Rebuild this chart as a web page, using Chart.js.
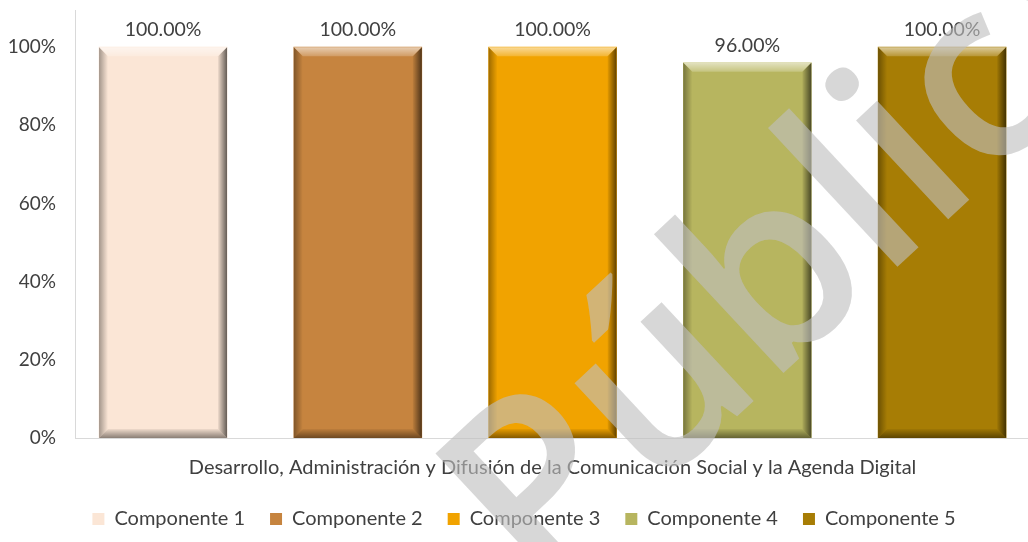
<!DOCTYPE html>
<html>
<head>
<meta charset="utf-8">
<script src="https://cdn.jsdelivr.net/npm/chart.js@4.4.1/dist/chart.umd.min.js"></script>
<style>
  html, body { margin: 0; padding: 0; background: #fff; overflow: hidden; }
  #wrap { width: 1028px; height: 542px; }
</style>
</head>
<body>
<div id="wrap"><canvas id="chart" width="1028" height="542"></canvas></div>
<script>
// datos
const categories = ['Desarrollo, Administración y Difusión de la Comunicación Social y la Agenda Digital'];
const seriesNames = ['Componente 1', 'Componente 2', 'Componente 3', 'Componente 4', 'Componente 5'];
const seriesValues = [100, 100, 100, 96, 100];
const yTicks = [0, 20, 40, 60, 80, 100];

const seriesColors = ['#FBE6D6', '#C6843F', '#F1A300', '#B7B55F', '#A77D05'];
const FONT = 'Lato, "Open Sans", sans-serif';
const TEXT = '#404040';

// biselado de las barras
const bevelPlugin = {
    id: 'bevel',
    afterDatasetsDraw(chart) {
        const ctx = chart.ctx;
        chart.data.datasets.forEach((ds, i) => {
            chart.getDatasetMeta(i).data.forEach(bar => {
                const l = bar.x - bar.width / 2, r = bar.x + bar.width / 2;
                const t = bar.y, b = bar.base, s = 9;
                ctx.save();
                let g = ctx.createLinearGradient(0, t, 0, t + s);
                g.addColorStop(0, 'rgba(255,255,255,0.6)');
                g.addColorStop(1, 'rgba(255,255,255,0.2)');
                quad(ctx, [[l, t], [r, t], [r - s, t + s], [l + s, t + s]], g);
                g = ctx.createLinearGradient(r - s, 0, r, 0);
                g.addColorStop(0, 'rgba(0,0,0,0.05)');
                g.addColorStop(1, 'rgba(0,0,0,0.6)');
                quad(ctx, [[r, t], [r, b], [r - s, b - s], [r - s, t + s]], g);
                g = ctx.createLinearGradient(l, 0, l + s, 0);
                g.addColorStop(0, 'rgba(0,0,0,0.35)');
                g.addColorStop(1, 'rgba(0,0,0,0)');
                quad(ctx, [[l, t], [l + s, t + s], [l + s, b - s], [l, b]], g);
                g = ctx.createLinearGradient(0, b - s, 0, b);
                g.addColorStop(0, 'rgba(0,0,0,0.05)');
                g.addColorStop(1, 'rgba(0,0,0,0.45)');
                quad(ctx, [[l, b], [r, b], [r - s, b - s], [l + s, b - s]], g);
                ctx.restore();
            });
        });
    }
};

function quad(ctx, pts, fill) {
    ctx.beginPath();
    ctx.moveTo(pts[0][0], pts[0][1]);
    for (let k = 1; k < pts.length; k++) ctx.lineTo(pts[k][0], pts[k][1]);
    ctx.closePath();
    ctx.fillStyle = fill;
    ctx.fill();
}

// etiquetas de valor
const labelPlugin = {
    id: 'valueLabels',
    afterDatasetsDraw(chart) {
        const ctx = chart.ctx;
        ctx.save();
        ctx.font = '19.5px ' + FONT;
        ctx.fillStyle = TEXT;
        ctx.textAlign = 'center';
        ctx.textBaseline = 'middle';
        chart.data.datasets.forEach((ds, i) => {
            chart.getDatasetMeta(i).data.forEach((bar, j) => {
                ctx.fillText(ds.data[j].y.toFixed(2) + '%', bar.x, bar.y - 17);
            });
        });
        ctx.restore();
    }
};

// leyenda algo desplazada a la derecha, como en el original
const legendShift = {
    id: 'legendShift',
    afterLayout(chart) {
        chart.legend.left += 10;
        chart.legend.right += 10;
    }
};

// marca de agua
const watermarkPlugin = {
    id: 'watermark',
    afterDraw(chart) {
        const ctx = chart.ctx;
        ctx.save();
        ctx.translate(540, 600);
        ctx.rotate(-43 * Math.PI / 180);
        ctx.font = '600 250px "Open Sans", sans-serif';
        ctx.fillStyle = 'rgba(190,190,190,0.62)';
        ctx.textBaseline = 'alphabetic';
        ctx.fillText('Pública', 0, 0);
        ctx.restore();
    }
};

const legendPad = 25;
const legendFont = 20;

new Chart(document.getElementById('chart'), {
    type: 'bar',
    data: {
        datasets: seriesNames.map((name, i) => ({
            label: name,
            data: [{ x: i + 1, y: seriesValues[i] }],
            backgroundColor: seriesColors[i],
            borderWidth: 0,
            barThickness: 128
        }))
    },
    options: {
        responsive: false,
        animation: false,
        devicePixelRatio: 1,
        layout: { padding: { top: 10, left: 0, right: 0, bottom: 3 } },
        plugins: {
            legend: {
                position: 'bottom',
                labels: {
                    boxWidth: 12,
                    boxHeight: 12,
                    padding: legendPad,
                    color: TEXT,
                    font: { family: FONT, size: legendFont }
                }
            },
            tooltip: { enabled: false }
        },
        scales: {
            x: {
                type: 'linear',
                offset: false,
                min: 0.548,
                max: 5.441,
                stacked: true,
                grid: { display: false, drawTicks: false, offset: false },
                border: { color: '#D9D9D9', width: 1 },
                afterBuildTicks: (scale) => { scale.ticks = [{ value: 3 }]; },
                afterFit: (scale) => {
                    scale.height = 542 - 3 - (legendFont + legendPad + 10) - 438;
                    scale.paddingLeft = 0;
                    scale.paddingRight = 0;
                },
                ticks: {
                    callback: () => categories[0],
                    color: TEXT,
                    padding: 18,
                    maxRotation: 0,
                    font: { family: FONT, size: 20 }
                }
            },
            y: {
                min: 0,
                max: 109.5,
                stacked: true,
                grid: { display: false, drawTicks: false },
                border: { color: '#D9D9D9', width: 1 },
                afterBuildTicks: (scale) => { scale.ticks = yTicks.map(v => ({ value: v })); },
                afterFit: (scale) => {
                    scale.width = 75;
                    scale.paddingTop = 0;
                    scale.paddingBottom = 0;
                },
                ticks: {
                    callback: (v) => v + '%',
                    color: TEXT,
                    padding: 19,
                    font: { family: FONT, size: 19 }
                }
            }
        }
    },
    plugins: [bevelPlugin, labelPlugin, legendShift, watermarkPlugin]
});
</script>
</body>
</html>
